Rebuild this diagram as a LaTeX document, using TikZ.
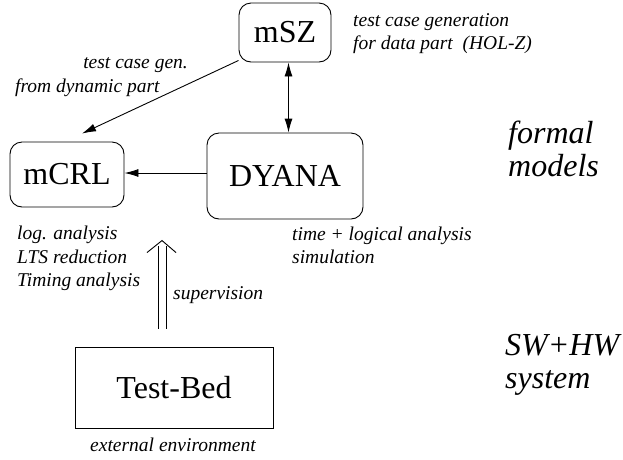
\documentclass[tikz,border=0pt]{standalone}
\usepackage{fontspec}
\setmainfont{Liberation Serif}[ItalicFont={Liberation Serif Italic}]
\usetikzlibrary{arrows.meta,calc}
\begin{document}
\begin{tikzpicture}[x=1pt,y=-1pt,
  box/.style={draw, line width=0.9pt, rounded corners=12pt, inner sep=0pt, font=\fontsize{32}{32}\selectfont},
  sqbox/.style={draw, line width=0.9pt, inner sep=0pt, font=\fontsize{32}{32}\selectfont},
  note/.style={inner sep=0pt, align=left, font=\fontsize{19.5}{23.5}\selectfont\itshape},
  big/.style={inner sep=0pt, align=left, font=\fontsize{32}{33}\selectfont\itshape},
  conn/.style={line width=0.9pt, -{Latex[length=14pt,width=8pt]}},
  bconn/.style={line width=0.9pt, {Latex[length=14pt,width=8pt]}-{Latex[length=14pt,width=8pt]}},
  plain/.style={line width=0.9pt}]
\useasboundingbox (0,0) rectangle (623,459);
% boxes
\node[box, minimum width=92pt, minimum height=59pt] (msz) at (285,32.5) {mSZ};
\node[box, minimum width=156pt, minimum height=86pt] (dyana) at (285,176) {DYANA};
\node[box, minimum width=114pt, minimum height=65pt] (mcrl) at (67,174.5) {mCRL};
\node[sqbox, minimum width=198pt, minimum height=81pt] (tb) at (174,387.5) {Test-Bed};
% connectors
\draw[conn] ($(msz.south west)+(0,-2)$) -- ($(mcrl.north)+(15,-8)$);
\draw[bconn] ([xshift=3.5pt]msz.south) -- ([xshift=3.5pt]dyana.north);
\draw[conn] ([yshift=3pt]dyana.west) -- ([yshift=3pt]dyana.west -| mcrl.east);
% double supervision arrow
\coordinate (supbase) at ($(tb.north)+(-12,-18)$);
\coordinate (suptip) at ($(tb.north)+(-12,-106)$);
\draw[plain] ($(supbase)+(-4,0)$) -- ($(suptip)+(-4,5)$);
\draw[plain] ($(supbase)+(4,0)$) -- ($(suptip)+(4,5)$);
\draw[plain] ($(suptip)+(-15,12)$) -- (suptip) -- ($(suptip)+(14,12)$);
% labels
\node[note, anchor=base east] (l1) at (188,68) {test case gen.};
\node[note, anchor=base west] (l2) at (15,92) {from dynamic part};
\node[note, anchor=base west] (l3) at (353,49.5) {test case generation\\for data part~~(HOL-Z)};
\node[note, anchor=base west] (l4) at (17,286.5) {log. analysis\\LTS reduction\\Timing analysis};
\node[note, anchor=base west] (l5) at (292,263.5) {time + logical analysis\\simulation};
\node[note, anchor=base west] (l6) at (173,299) {supervision};
\node[note, anchor=base] (l7) at (173,451) {external environment};
\node[big, anchor=base west] (r1) at (508,176) {formal\\models};
\node[big, anchor=base west] (r2) at (505,388) {SW+HW\\system};
\end{tikzpicture}
\end{document}
